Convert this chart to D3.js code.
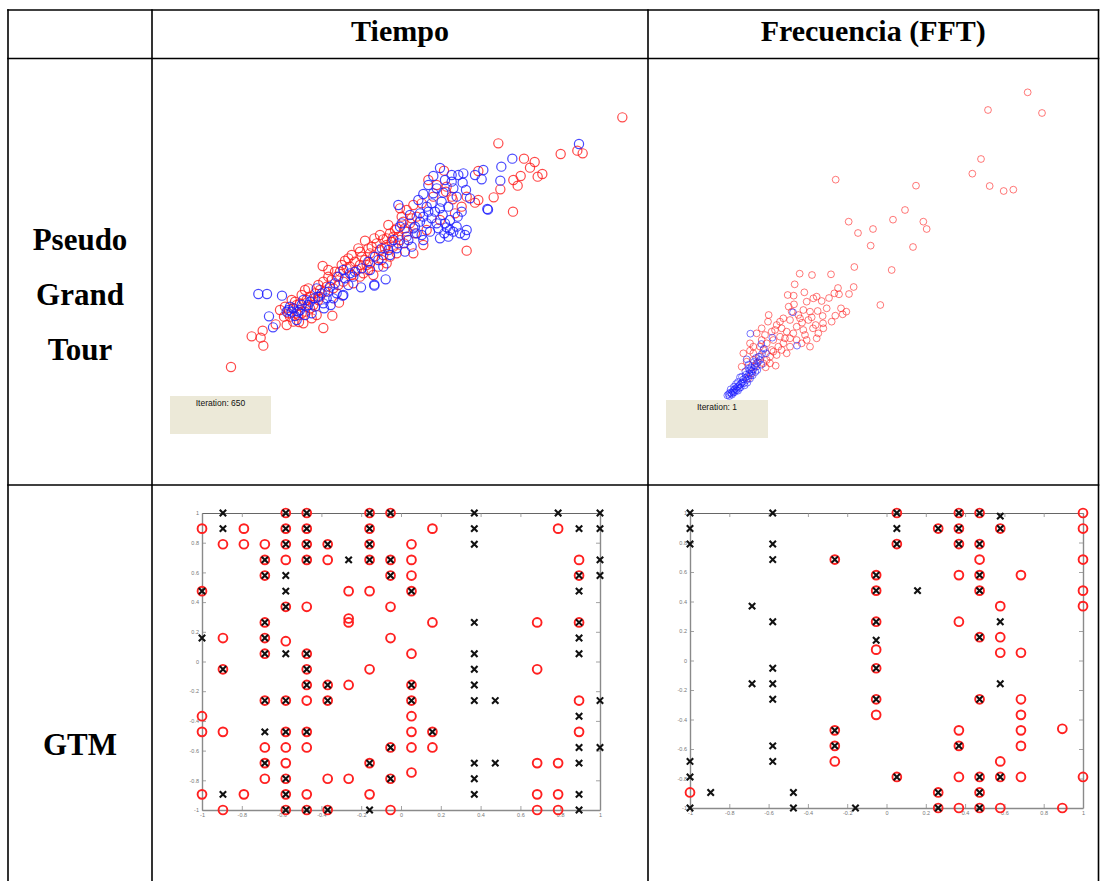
<!DOCTYPE html>
<html>
<head>
<meta charset="utf-8">
<script src="https://cdn.jsdelivr.net/npm/d3@7"></script>
<style>
  body { margin: 0; background: #fff; }
  svg { display: block; }
</style>
</head>
<body>
<script>
// column / row headings
var columnas = ["Tiempo", "Frecuencia (FFT)"];
var filaPgt = ["Pseudo", "Grand", "Tour"];
var filaGtm = ["GTM"];
var iteraciones = ["Iteration: 650", "Iteration: 1"];

// Pseudo Grand Tour, tiempo (projection units)
var tiempoRojo = [
  [138.7,96.8],[101.5,89.0],[120.2,85.8],[125.2,86.8],[126.8,86.0],[109.2,84.4],[112.4,83.4],
  [111.0,81.7],[108.2,79.2],[106.0,78.0],[107.3,76.3],[113.3,79.0],[114.7,79.8],[102.1,75.2],
  [100.1,72.8],[105.9,68.5],[92.0,56.8],[85.2,80.8],[80.5,78.0],[95.5,80.7],[94.5,71.2],
  [95.5,72.0],[72.0,69.5],[76.0,56.0],[48.8,52.2],[50.5,51.0],[51.7,37.3],[49.0,33.6],
  [27.5,31.1],[30.8,32.8],[30.2,30.7],[31.0,28.3],[34.7,34.7],[21.3,21.9],[37.2,37.0],
  [41.7,35.4],[53.7,41.2],[86.0,76.0],[87.8,72.2],[85.8,74.5],
  [55.5,53.8],[61.5,59.8],[64.3,60.5],[67.0,60.2],[60.0,56.5],[63.0,56.0],[66.0,57.0],
  [68.0,58.5],[69.0,55.0],[71.0,56.0],[66.5,54.0],[61.5,54.0],[59.0,51.0],[57.5,49.5],
  [60.0,49.0],[62.5,51.0],[57.0,52.0],[54.0,50.5],[51.5,48.0],[50.0,46.0],[48.0,45.0],
  [43.5,45.0],[45.0,43.0],[42.0,41.0],[40.0,39.5],[38.5,38.0],[43.5,38.5],[46.0,40.5],
  [47.5,42.0],[75.0,65.0],[73.0,65.5],[71.0,63.5],[69.0,62.0],[71.5,61.0],[73.2,59.0],
  [79.0,58.5],[87.5,73.0],[92.0,73.0],[76.0,70.5],[74.0,69.0],
  [58.5,53.5],[62.0,52.5],[64.0,55.0],[65.5,52.0],[68.0,53.0],[70.0,58.0],[72.0,60.0],
  [67.5,57.5],[63.5,58.0],[60.5,55.0],[56.0,51.5],[53.0,49.0],[49.0,47.5],[46.5,44.0],
  [44.0,42.0],[41.0,40.5],[39.0,37.0],[42.5,38.0],[45.0,39.5],[48.0,43.0],[52.0,45.5],
  [55.0,47.5],[58.0,47.0],[61.0,50.0],[64.0,49.5],[66.0,61.5],[70.0,61.0],[74.0,62.5],
  [77.0,67.0],[78.5,71.0],[82.0,73.0],[84.0,66.0],[80.0,63.0],[76.5,62.0],[72.5,67.0],
  [68.5,64.5],[88.5,68.0],[90.5,70.0],[83.0,76.5],[45.5,36.5],[38.0,34.5],[36.0,39.0],
  [40.0,35.5],[43.0,35.0],[47.0,37.5],
  [56.5,54.5],[59.5,57.5],[62.5,57.5],[65.0,59.0],[67.0,55.5],[69.5,59.5],[63.0,53.0],
  [60.0,52.5],[57.5,55.5],[54.5,52.5],[52.5,50.5],[50.5,49.0],[47.5,46.5],[44.5,45.5],
  [42.5,43.5],[40.5,41.5],[39.5,42.0],[37.5,40.0],[41.5,37.5],[44.0,40.0],[46.5,42.5],
  [49.5,44.5],[53.5,46.5],[70.5,63.0],[68.0,60.5],[73.5,63.5],[75.5,66.5]
];
var tiempoAzul = [
  [125.7,88.8],[105.7,84.4],[102.4,82.0],[102.1,77.8],[97.0,81.0],[96.5,78.2],[94.5,79.5],
  [98.2,69.3],[98.4,69.1],[84.0,81.6],[82.0,79.2],[87.5,79.5],[90.8,77.2],[91.8,75.0],
  [93.0,72.5],[71.5,70.5],[84.8,67.5],[67.7,48.2],[64.3,46.6],[64.3,46.3],[60.3,45.8],
  [29.5,43.8],[32.1,43.8],[36.6,43.3],[32.7,37.1],[33.9,33.8],[49.2,39.5],[51.2,40.5],
  [91.5,61.5],[87.0,63.0],[85.3,62.0],[89.0,64.0],[86.0,63.8],[88.0,62.5],[89.3,67.0],
  [90.5,68.5],[39.5,38.5],[40.5,37.2],[46.0,42.5],[48.5,44.0],[51.0,46.0],[53.5,49.0],
  [55.0,51.0],[57.0,50.0],[55.0,43.5],[54.8,43.3],[67.0,52.0],[64.5,55.0],[66.5,57.5],
  [70.0,60.0],[72.0,64.0],[72.5,65.0],[75.0,67.5],[78.0,68.0],[80.0,65.0],[77.0,62.0],
  [79.0,60.0],[73.5,56.5],[81.5,71.0],[79.0,73.8],[82.0,74.0],[85.0,74.2],[89.0,73.0],
  [43.0,42.0],[39.0,40.0],
  [76.5,64.0],[78.5,61.5],[81.0,62.5],[83.0,65.0],[82.5,68.5],[84.5,71.5],[86.5,70.0],
  [88.0,75.5],[80.0,70.0],[77.5,72.0],[74.5,60.0],[75.5,58.0],[71.0,57.5],[69.0,55.5],
  [84.0,60.5],[86.5,61.0],[90.0,62.0],[92.0,63.0],[87.5,77.5],[85.5,78.0],[89.5,79.5],
  [91.0,80.0],[83.0,75.5],[80.5,76.5],[87.0,66.0],[42.0,39.0],[44.5,40.5],[41.0,36.0],
  [38.0,38.5],[47.0,45.5],[52.5,47.0],[58.5,50.5],[62.5,53.5],[45.5,38.0],[56.5,46.5],
  [50.0,42.5],
  [40.0,39.5],[41.5,38.5],[43.5,37.5],[45.0,41.5],[47.5,43.0],[50.5,44.5],[53.0,44.0],
  [52.0,42.5],[49.0,41.0],[46.5,40.0],[42.5,40.5],[38.5,39.0],[55.5,48.5],[58.0,49.0],
  [60.5,51.5],[63.0,51.0],[65.5,54.0],[68.5,57.0],[71.5,59.0],[74.0,61.0],[76.0,63.5],
  [78.0,65.5],[81.5,66.5],[83.5,63.5],[85.5,65.0],[80.5,68.5],[79.0,67.0],[84.0,69.5]
];

// Pseudo Grand Tour, frecuencia (projection units)
var fftRojo = [
  [113.3,104.3],[101.4,99.0],[117.6,98.1],[99.3,84.3],[96.7,79.9],[101.9,76.2],[106.1,74.7],
  [109.0,75.1],[55.7,78.1],[79.8,76.3],[76.5,69.0],[72.9,66.1],[82.0,65.5],[83.0,63.3],
  [59.6,65.5],[62.4,62.1],[66.9,63.3],[66.2,58.3],[78.9,57.9],[61.3,51.9],[72.5,51.0],
  [44.9,49.9],[48.6,49.5],[54.3,49.7],[43.4,46.7],[56.4,45.6],[61.1,45.9],[59.7,43.8],
  [69.1,40.5],[46.3,44.3],[41.3,43.5],[43.1,43.3],[49.0,42.5],[50.0,43.0],[51.5,41.7],
  [47.0,41.5],[55.3,44.0],[56.7,43.7],[53.7,42.6],[57.3,39.5],[58.9,38.5],[57.8,37.7],
  [55.6,37.3],[51.8,37.2],[51.9,35.0],[50.3,38.7],[48.0,38.5],[48.5,36.8],[45.6,35.2],
  [49.7,34.5],[48.9,33.5],[43.2,40.7],[41.6,40.0],[35.6,37.5],[35.4,35.5],[40.0,36.5],
  [42.0,36.0],[38.0,34.5],[37.5,33.0],[44.0,34.0],[43.0,32.0],[46.0,33.0],[47.0,30.0],
  [48.0,28.0],[50.0,30.5],[45.5,29.0],[42.0,28.0],[40.0,29.0],[38.5,28.0],[37.0,30.0],
  [35.0,29.0],[34.0,27.0],[33.0,25.0],[36.0,25.0],[37.7,22.3],[34.7,21.8],[32.0,23.0],
  [30.0,26.8],[31.0,24.0],[36.0,23.0],[42.0,30.5],[39.0,31.0],[34.5,31.5],[33.5,30.0],
  [31.0,28.0],[28.0,26.0],[29.0,23.5],[31.5,22.0],[30.5,20.0],
  [27.5,22.0],[29.5,18.5],[39.5,33.5],[41.0,32.5],[36.5,27.0],[38.0,25.5],[44.5,37.5],
  [47.5,36.0],[53.0,39.5],[46.0,39.0],[33.0,28.0],[32.0,32.0],
  [37.0,26.5],[39.5,27.0],[41.0,26.0],[35.0,24.0],[34.0,23.0],[39.0,35.5],[42.5,38.5],
  [45.0,36.5],[52.0,33.5],[54.5,35.5],[50.5,32.0],[46.5,31.5],[44.0,30.0],[40.5,30.5],
  [36.5,32.5],[33.5,33.5],[31.0,26.0],[30.0,29.0]
];
var fftAzul = [
  [42.9,38.3],[30.1,31.9],[36.7,30.7],[44.1,28.3],[29.0,24.2],[30.0,21.0],
  [23.2,13.4],[23.6,13.8],[24.0,14.2],[24.4,14.0],[24.8,14.6],[25.2,15.0],[25.0,14.2],
  [25.6,15.4],[26.0,15.0],[26.2,15.9],[26.6,16.2],[27.0,16.6],[26.8,15.6],[27.4,17.0],
  [27.8,17.4],[28.2,17.0],[28.0,18.2],[28.6,18.6],[29.0,18.0],[29.4,19.2],[28.8,19.6],
  [29.8,20.0],[30.2,19.4],[30.6,20.6],[31.0,21.2],[30.4,21.8],[31.4,22.4],[32.0,22.0],
  [32.4,23.4],[33.0,24.0],[32.6,25.0],[33.6,25.8],[34.2,27.4],[27.0,18.8],[25.8,16.8],
  [24.2,15.2],[31.8,24.6],[29.6,22.6],[34.8,26.0],[33.4,28.8],
  [23.8,13.2],[24.6,13.6],[25.4,14.4],[26.4,14.8],[27.2,15.8],[28.4,16.4],[29.2,17.2],
  [30.0,18.4],[30.8,19.4],[31.6,20.4],[25.2,16.0],[26.4,17.4],[27.6,19.0],[28.6,20.6],
  [29.6,21.4],[32.2,21.0],[33.4,22.6],[31.2,23.4]
];

// GTM: latent grid 20 x 20, entries are [column, row] (row 0 = top, y = 1)
var tiempoCirculos = [
  [4,0],[5,0],[8,0],[9,0],
  [0,1],[2,1],[4,1],[5,1],[8,1],[11,1],[17,1],
  [1,2],[2,2],[3,2],[4,2],[5,2],[6,2],[8,2],[10,2],
  [3,3],[4,3],[5,3],[6,3],[8,3],[9,3],[10,3],[18,3],
  [3,4],[9,4],[10,4],[18,4],
  [0,5],[7,5],[8,5],[10,5],
  [4,6],[5,6],[9,6],
  [3,7],[7,6.75],[7,7],[11,7],[16,7],[18,7],
  [1,8],[3,8],[4,8.2],[9,8],
  [3,9],[5,9],[10,9],
  [1,10],[5,10],[8,10],[16,10],
  [5,11],[6,11],[7,11],[10,11],
  [3,12],[4,12],[5,12],[6,12],[10,12],[18,12],
  [0,13],[10,13],
  [0,14],[1,14],[4,14],[5,14],[10,14],[11,14],[18,14],
  [3,15],[4,15],[5,15],[9,15],[10,15],[11,15],
  [3,16],[4,16],[8,16],[16,16],[17,16],
  [10,16.6],
  [3,17],[4,17],[6,17],[7,17],[9,17],
  [0,18],[2,18],[4,18],[5,18],[8,18],[16,18],[17,18],
  [1,19],[4,19],[5,19],[6,19],[9,19],[16,19],[17,19]
];
var tiempoCruces = [
  [1,0],[4,0],[5,0],[8,0],[9,0],[13,0],[17,0],[19,0],
  [1,1],[4,1],[5,1],[8,1],[13,1],[18,1],[19,1],
  [4,2],[5,2],[6,2],[8,2],[13,2],
  [3,3],[5,3],[7,3],[8,3],[9,3],[19,3],
  [3,4],[4,4],[9,4],[18,4],[19,4],
  [0,5],[4,5],[10,5],[18,5],
  [4,6],
  [3,7],[13,7],[18,7],
  [0,8],[3,8],[18,8],
  [3,9],[4,9],[5,9],[13,9],[18,9],
  [1,10],[5,10],[13,10],
  [5,11],[6,11],[10,11],[13,11],
  [3,12],[4,12],[6,12],[10,12],[13,12],[14,12],[19,12],
  [18,13],
  [3,14],[4,14],[5,14],[11,14],
  [9,15],[18,15],[19,15],
  [3,16],[8,16],[13,16],[14,16],[18,16],
  [4,17],[9,17],[13,17],
  [1,18],[4,18],[13,18],[18,18],
  [4,19],[5,19],[6,19],[8,19],[18,19]
];
var fftCirculos = [
  [10,0],[13,0],[14,0],[19,0],
  [12,1],[13,1],[15,1],[19,1],
  [10,2],[13,2],[14,2],
  [7,3],[14,3],[19,3],
  [9,4],[13,4],[14,4],[16,4],
  [9,5],[14,5],[19,5],
  [15,6],[19,6],
  [9,7],[13,7],
  [14,8],[15,8],[9,8.8],
  [15,9],[16,9],
  [9,10],
  [9,12],[14,12],[16,12],
  [9,13],[16,13],[18,13.9],
  [7,14],[13,14],[16,14],
  [7,15],[13,15],[16,15],
  [7,16],[15,16],
  [10,17],[13,17],[14,17],[15,17],[16,17],[19,17],
  [0,18],[12,18],[14,18],
  [12,19],[13,19],[14,19],[15,19],[18,19]
];
var fftCruces = [
  [0,0],[4,0],[10,0],[13,0],[14,0],[15,0.2],
  [0,1],[10,1],[12,1],[13,1],[15,1],
  [0,2],[4,2],[10,2],[13,2],[14,2],
  [4,3],[7,3],
  [9,4],[14,4],
  [9,5],[11,5],[14,5],
  [3,6],
  [4,7],[9,7],[15,7],
  [9,8.2],[14,8],
  [4,10],[9,10],
  [3,11],[4,11],[15,11],
  [4,12],[9,12],[14,12],
  [7,14],
  [4,15],[7,15],[13,15],
  [0,16],[4,16],
  [0,17],[10,17],[14,17],[15,17],
  [1,18],[5,18],[12,18],[14,18],
  [0,19],[5,19],[8,19],[12,19],[14,19]
];
var gtmTicks = [-1, -0.8, -0.6, -0.4, -0.2, 0, 0.2, 0.4, 0.6, 0.8, 1];

var W = 1100, H = 881;
var svg = d3.select("body").append("svg")
    .attr("width", W)
    .attr("height", H);

// table grid
var colX = [8, 152, 648, 1098.5];
var rowY = [10, 58.5, 485];
var grid = svg.append("g").attr("stroke", "#000").attr("stroke-width", 1.6);
colX.forEach(function(x) {
    grid.append("line").attr("x1", x).attr("x2", x).attr("y1", rowY[0] - 0.8).attr("y2", H);
});
rowY.forEach(function(y) {
    grid.append("line").attr("x1", colX[0] - 0.8).attr("x2", colX[3] + 0.8).attr("y1", y).attr("y2", y);
});

var serif = "'Liberation Serif', 'Times New Roman', serif";
// column headers
svg.selectAll(".colhead")
    .data(columnas)
    .enter().append("text")
        .attr("class", "colhead")
        .attr("x", function(d, i) { return (colX[i + 1] + colX[i + 2]) / 2; })
        .attr("y", 41)
        .attr("text-anchor", "middle")
        .attr("font-family", serif)
        .attr("font-weight", "bold")
        .attr("font-size", 30)
        .text(function(d) { return d; });

// row headers
svg.selectAll(".rowpgt")
    .data(filaPgt)
    .enter().append("text")
        .attr("x", 80)
        .attr("y", function(d, i) { return 250 + i * 55; })
        .attr("text-anchor", "middle")
        .attr("font-family", serif)
        .attr("font-weight", "bold")
        .attr("font-size", 31)
        .text(function(d) { return d; });
svg.selectAll(".rowgtm")
    .data(filaGtm)
    .enter().append("text")
        .attr("x", 80)
        .attr("y", 755)
        .attr("text-anchor", "middle")
        .attr("font-family", serif)
        .attr("font-weight", "bold")
        .attr("font-size", 31)
        .text(function(d) { return d; });

// Pseudo Grand Tour panels
function drawPgt(cfg) {
    var x = d3.scaleLinear().domain(cfg.xd).range(cfg.xr);
    var y = d3.scaleLinear().domain(cfg.yd).range(cfg.yr);
    var g = svg.append("g");

    g.append("rect")
        .attr("x", cfg.box[0]).attr("y", cfg.box[1])
        .attr("width", cfg.box[2]).attr("height", cfg.box[3])
        .attr("fill", "#ece9d8");
    g.append("text")
        .attr("x", cfg.box[0] + cfg.box[2] / 2)
        .attr("y", cfg.box[1] + 10)
        .attr("text-anchor", "middle")
        .attr("font-family", "'Liberation Sans', Arial, sans-serif")
        .attr("font-size", 8.5)
        .attr("fill", "#111")
        .text(cfg.label);

    [[cfg.red, "#ff1a1a"], [cfg.blue, "#1a1aff"]].forEach(function(s) {
        g.append("g").selectAll("circle")
            .data(s[0])
            .enter().append("circle")
                .attr("cx", function(d) { return x(d[0]); })
                .attr("cy", function(d) { return y(d[1]); })
                .attr("r", cfg.r)
                .attr("fill", "none")
                .attr("stroke", s[1])
                .attr("stroke-opacity", cfg.op)
                .attr("stroke-width", cfg.sw);
    });
}

drawPgt({ red: tiempoRojo, blue: tiempoAzul, xd: [0, 144], xr: [160, 640], yd: [0, 105], yr: [440, 90],
          r: 4.6, sw: 1.2, op: 0.8, box: [170, 396, 101, 38], label: iteraciones[0] });
drawPgt({ red: fftRojo, blue: fftAzul, xd: [0, 132], xr: [650, 1090], yd: [0, 108], yr: [440, 80],
          r: 3.4, sw: 0.9, op: 0.65, box: [666, 400, 102, 38], label: iteraciones[1] });

// GTM panels
function drawGtm(cfg) {
    var gx = d3.scaleLinear().domain([0, 19]).range([cfg.x0, cfg.x1]);
    var gy = d3.scaleLinear().domain([0, 19]).range([cfg.y0, cfg.y1]);
    var ax = d3.scaleLinear().domain([-1, 1]).range([cfg.x0, cfg.x1]);
    var ay = d3.scaleLinear().domain([-1, 1]).range([cfg.y1, cfg.y0]);
    var g = svg.append("g");
    var fmt = function(d) { return String(d); };

    var bottom = g.append("g")
        .attr("transform", "translate(0," + cfg.y1 + ")")
        .call(d3.axisBottom(ax).tickValues(gtmTicks).tickSizeInner(-4).tickSizeOuter(0).tickPadding(3).tickFormat(fmt));
    var left = g.append("g")
        .attr("transform", "translate(" + cfg.x0 + ",0)")
        .call(d3.axisLeft(ay).tickValues(gtmTicks).tickSizeInner(-4).tickSizeOuter(0).tickPadding(3).tickFormat(fmt));
    var top = g.append("g")
        .attr("transform", "translate(0," + cfg.y0 + ")")
        .call(d3.axisTop(ax).tickValues(gtmTicks).tickSizeInner(-4).tickSizeOuter(0).tickFormat(""));
    var right = g.append("g")
        .attr("transform", "translate(" + cfg.x1 + ",0)")
        .call(d3.axisRight(ay).tickValues(gtmTicks).tickSizeInner(-4).tickSizeOuter(0).tickFormat(""));
    [bottom, left, top, right].forEach(function(a) {
        a.select(".domain").attr("stroke", "#8a8a8a").attr("stroke-width", 1.4);
        a.selectAll(".tick line").attr("stroke", "#8a8a8a").attr("stroke-width", 0.8);
        a.selectAll(".tick text").attr("fill", "#777").attr("font-size", 5.5)
            .attr("font-family", "'Liberation Sans', Arial, sans-serif");
    });
    top.select(".domain").attr("stroke", "#666").attr("stroke-width", 1);

    g.append("g").selectAll("circle")
        .data(cfg.circles)
        .enter().append("circle")
            .attr("cx", function(d) { return gx(d[0]); })
            .attr("cy", function(d) { return gy(d[1]); })
            .attr("r", 4.4)
            .attr("fill", "none")
            .attr("stroke", "#ff2020")
            .attr("stroke-width", 1.9);

    g.append("g").selectAll("path")
        .data(cfg.crosses)
        .enter().append("path")
            .attr("transform", function(d) { return "translate(" + gx(d[0]) + "," + gy(d[1]) + ")"; })
            .attr("d", "M-3.2,-3.2L3.2,3.2M-3.2,3.2L3.2,-3.2")
            .attr("stroke", "#111")
            .attr("stroke-width", 2.1);
}

drawGtm({ circles: tiempoCirculos, crosses: tiempoCruces, x0: 202, x1: 600, y0: 513, y1: 810 });
drawGtm({ circles: fftCirculos, crosses: fftCruces, x0: 690, x1: 1083, y0: 513, y1: 808 });
</script>
</body>
</html>
